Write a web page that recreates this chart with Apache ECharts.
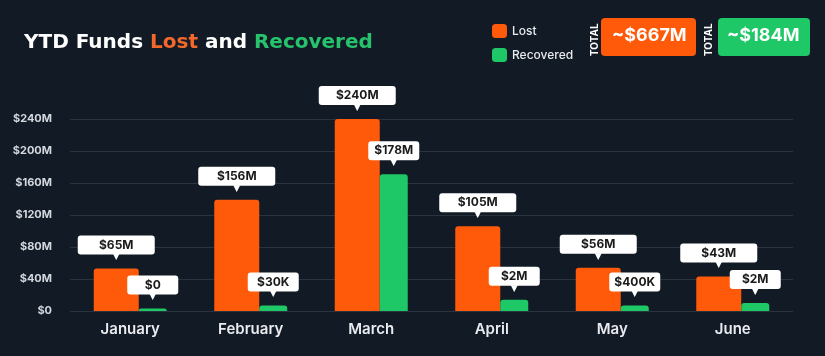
<!DOCTYPE html>
<html><head><meta charset="utf-8">
<script src="https://cdn.jsdelivr.net/npm/echarts@6/dist/echarts.min.js"></script>
<style>html,body{margin:0;padding:0;background:#111a25;}#c{width:825px;height:356px;}</style>
</head><body><div id="c"></div>
<script>
const categories = ['January','February','March','April','May','June'];
const lostValues = [53, 139, 240, 106, 54, 43];
const recoveredValues = [3, 7, 171, 14, 7, 10];
const lostLabels = ['$65M','$156M','$240M','$105M','$56M','$43M'];
const recoveredLabels = ['$0','$30K','$178M','$2M','$400K','$2M'];
const yTicks = [0, 40, 80, 120, 160, 200, 240];
const totals = ['~$667M', '~$184M'];

const ORANGE = '#ff5a0a', GREEN = '#1ec866';
const FONT = 'Inter, "DejaVu Sans", sans-serif';
const TFONT = '"DejaVu Sans", sans-serif';

function labelCfg(texts, w) {
  return {
    show: true, position: 'top', distance: 9,
    formatter: p => '{b|' + texts[p.dataIndex] + '}\n{a|▼}',
    rich: {
      b: {backgroundColor: '#ffffff', borderRadius: 3, width: w, height: 19, lineHeight: 19,
          align: 'center', color: '#1a1a1a', fontFamily: FONT, fontWeight: 'bold', fontSize: 12},
      a: {color: '#ffffff', fontSize: 9, lineHeight: 5, height: 5, align: 'center', fontFamily: '"DejaVu Sans"'}
    }
  };
}

const chart = echarts.init(document.getElementById('c'));
chart.setOption({
  backgroundColor: '#111a25',
  animation: false,
  title: {
    left: 19, top: 28,
    text: '{w|YTD Funds }{o|Lost}{w| and }{g|Recovered}',
    textStyle: {
      rich: {
        w: {color: '#ffffff', fontSize: 20, fontWeight: 'bold', fontFamily: TFONT},
        o: {color: '#f2682a', fontSize: 20, fontWeight: 'bold', fontFamily: TFONT},
        g: {color: '#27c26c', fontSize: 20, fontWeight: 'bold', fontFamily: TFONT}
      }
    }
  },
  legend: {
    orient: 'vertical', left: 487, top: 19, itemWidth: 15, itemHeight: 14, itemGap: 10,
    icon: 'roundRect',
    textStyle: {color: '#e8eaee', fontSize: 12, fontFamily: FONT, fontWeight: 500},
    data: ['Lost', 'Recovered']
  },
  graphic: [
    {type: 'rect', left: 601, top: 18, shape: {width: 95, height: 38, r: 4}, style: {fill: ORANGE}},
    {type: 'text', left: 612, top: 27, style: {text: totals[0], fill: '#ffffff', font: 'bold 18px ' + FONT}},
    {type: 'rect', left: 718, top: 18, shape: {width: 92, height: 38, r: 4}, style: {fill: GREEN}},
    {type: 'text', left: 727, top: 27, style: {text: totals[1], fill: '#ffffff', font: 'bold 18px ' + FONT}},
    {type: 'text', x: 590, y: 56, rotation: Math.PI / 2, style: {text: 'TOTAL', fill: '#ffffff', font: 'bold 10px ' + FONT}},
    {type: 'text', x: 704, y: 56, rotation: Math.PI / 2, style: {text: 'TOTAL', fill: '#ffffff', font: 'bold 10px ' + FONT}}
  ],
  grid: {left: 70, right: 32, top: 119, bottom: 45, containLabel: false},
  xAxis: {
    type: 'category', data: categories,
    axisLine: {show: false}, axisTick: {show: false},
    axisLabel: {color: '#e9ebef', fontSize: 15, fontWeight: 600, fontFamily: FONT, margin: 11}
  },
  yAxis: {
    type: 'value', min: 0, max: 240, interval: 40,
    axisLabel: {color: '#d5d8de', fontSize: 11, fontWeight: 'bold', fontFamily: FONT, margin: 18,
      formatter: v => yTicks.includes(v) ? '$' + (v === 0 ? '0' : v + 'M') : ''},
    splitLine: {lineStyle: {color: '#2a3441', width: 1}}
  },
  series: [
    {name: 'Lost', type: 'bar', data: lostValues, barWidth: 45, barGap: '0%',
     itemStyle: {color: ORANGE, borderRadius: [3, 3, 0, 0]}, label: labelCfg(lostLabels, 77)},
    {name: 'Recovered', type: 'bar', data: recoveredValues, barWidth: 28, barGap: '0%',
     itemStyle: {color: GREEN, borderRadius: [3, 3, 0, 0]}, label: labelCfg(recoveredLabels, 51)}
  ]
});
</script></body></html>
